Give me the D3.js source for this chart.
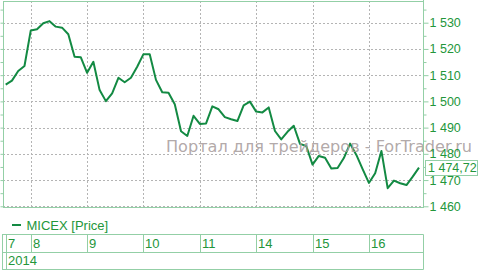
<!DOCTYPE html>
<html>
<head>
<meta charset="utf-8">
<script src="https://cdn.jsdelivr.net/npm/d3@7"></script>
<style>
	body { margin: 0; background: #fff; }
	svg { display: block; }
	text { font-family: 'Liberation Sans', Arial, sans-serif; }
</style>
</head>
<body>
<svg id="svg"></svg>
<script>
// trading days shown on the category axis and how many hourly points each has
const days = ['7', '8', '9', '10', '11', '14', '15', '16']
const pointsPerDay = [4, 9, 9, 9, 9, 9, 9, 9]
const years = ['2014']
const seriesName = 'MICEX [Price]'
const watermark = 'Портал для трейдеров - ForTrader.ru'

// hourly closes
const prices = [
	1506.4, 1507.9, 1511.6, 1513.5,
	1527.0, 1527.5, 1529.8, 1530.6, 1528.5, 1528.1, 1525.6, 1517.0, 1516.8,
	1510.9, 1515.1, 1504.3, 1500.1, 1503.1, 1509.0, 1507.3, 1509.0, 1513.2,
	1518.0, 1518.0, 1508.2, 1503.5, 1503.3, 1498.9, 1488.6, 1486.8, 1494.5,
	1491.4, 1491.6, 1498.1, 1497.0, 1494.0, 1493.2, 1492.5, 1498.5, 1499.9,
	1496.1, 1495.8, 1497.7, 1488.7, 1485.5, 1488.4, 1490.7, 1483.8, 1483.0,
	1475.9, 1479.2, 1478.5, 1474.4, 1474.6, 1478.4, 1483.9, 1479.6, 1474.2,
	1468.9, 1472.6, 1481.1, 1466.9, 1469.8, 1468.8, 1468.1, 1471.3, 1474.72
]
const majorTicks = [1460, 1470, 1480, 1490, 1500, 1510, 1520, 1530]

const w = 481
const h = 270
const green = '#138a43'
const txtGreen = '#23963a'
const pale = '#93cfa6'
const grid = '#b4b4b4'

const ruLocale = d3.formatLocale({ decimal: ',', thousands: ' ', grouping: [3], currency: ['', ''] })
const fmtTick = ruLocale.format(',.0f')
const fmtLast = ruLocale.format(',.2f')

let svg = d3.select('#svg')
.attr('width', w).attr('height', h)

let plot = { left: 3, right: 423, top: 1, bottom: 207 }

let x = d3.scaleLinear()
.domain([-0.43, prices.length - 1 + 0.64])
.range([plot.left, plot.right])

let y = d3.scaleLinear()
.domain([1460, 1530])
.range([206.3, 22.7])

// index of the first point of each day
let dayStart = pointsPerDay.map((n, i) => d3.sum(pointsPerDay.slice(0, i)))

// grid
svg.append('g')
.selectAll('line')
.data(majorTicks)
.enter().append('line')
.attr('x1', plot.left).attr('x2', plot.right)
.attr('y1', d => Math.round(y(d)) + 0.5).attr('y2', d => Math.round(y(d)) + 0.5)
.attr('stroke', grid).attr('stroke-dasharray', '2,2')

svg.append('g')
.selectAll('line')
.data(dayStart.slice(1))
.enter().append('line')
.attr('x1', d => Math.round(x(d)) + 0.5).attr('x2', d => Math.round(x(d)) + 0.5)
.attr('y1', plot.top).attr('y2', plot.bottom)
.attr('stroke', grid).attr('stroke-dasharray', '2,2')

// frame
svg.append('rect')
.attr('x', plot.left + 0.5).attr('y', plot.top + 0.5)
.attr('width', plot.right - plot.left).attr('height', plot.bottom - plot.top)
.attr('fill', 'none').attr('stroke', pale)

// price line
let lineMkr = d3.line()
.x((d, i) => x(i))
.y(d => y(d))

svg.append('path')
.datum(prices)
.attr('d', lineMkr)
.attr('fill', 'none')
.attr('stroke', green)
.attr('stroke-width', 2)
.attr('stroke-linejoin', 'round')

// watermark sits over the line
svg.append('text')
.attr('x', 166).attr('y', 151.5)
.attr('textLength', 306).attr('lengthAdjust', 'spacingAndGlyphs')
.style('font-family', "'DejaVu Sans', sans-serif")
.style('font-size', '16.5px')
.attr('fill', '#a99e9e')
.attr('fill-opacity', 0.9)
.text(watermark)

// left axis: only small ticks
let leftAxis = d3.axisLeft(y)
.tickValues(d3.range(1460, 1536, 5))
.tickSize(3)
.tickFormat('')

let gl = svg.append('g')
.attr('transform', `translate(${plot.left + 0.5},0)`)
.call(leftAxis)
gl.select('.domain').remove()
gl.selectAll('line').attr('stroke', pale)

// right axis with labels
let rightAxis = d3.axisRight(y)
.tickValues(majorTicks)
.tickSize(5)
.tickPadding(1)
.tickFormat(fmtTick)

let gr = svg.append('g')
.attr('transform', `translate(${plot.right + 0.5},0)`)
.call(rightAxis)
gr.select('.domain').remove()
gr.selectAll('line').attr('stroke', pale)
gr.selectAll('text')
.attr('fill', txtGreen)
.style('font-size', '12.5px')
.style('font-family', "'Liberation Sans', Arial, sans-serif")

let minorAxis = d3.axisRight(y)
.tickValues(d3.range(1465, 1536, 10))
.tickSize(3)
.tickFormat('')

let gm = svg.append('g')
.attr('transform', `translate(${plot.right + 0.5},0)`)
.call(minorAxis)
gm.select('.domain').remove()
gm.selectAll('line').attr('stroke', pale)

svg.append('line')
.attr('x1', plot.right + 0.5).attr('x2', plot.right + 0.5)
.attr('y1', 0).attr('y2', plot.bottom + 1)
.attr('stroke', pale)

// last value box
let last = prices[prices.length - 1]
svg.append('rect')
.attr('x', 425.5).attr('y', Math.round(y(last)) - 7.5)
.attr('width', 52).attr('height', 15)
.attr('fill', '#fff').attr('stroke', pale)

svg.append('text')
.attr('x', 428).attr('y', y(last) + 4.5)
.attr('fill', txtGreen)
.style('font-size', '12.5px')
.text(fmtLast(last))

// legend
svg.append('line')
.attr('x1', 12).attr('x2', 21)
.attr('y1', 225).attr('y2', 225)
.attr('stroke', green).attr('stroke-width', 2)

svg.append('text')
.attr('x', 26.5).attr('y', 229.5)
.attr('fill', txtGreen)
.style('font-size', '13px')
.text(seriesName)

// category axis
let rows = [234.5, 252.5, 269.5]

svg.append('g')
.selectAll('line')
.data(rows)
.enter().append('line')
.attr('x1', 2).attr('x2', plot.right + 0.5)
.attr('y1', d => d).attr('y2', d => d)
.attr('stroke', pale)

svg.append('g')
.selectAll('line')
.data([2.5, plot.right + 0.5])
.enter().append('line')
.attr('x1', d => d).attr('x2', d => d)
.attr('y1', rows[0]).attr('y2', rows[2])
.attr('stroke', pale)

let dayCells = svg.append('g')
.selectAll('g')
.data(days)
.enter().append('g')

dayCells.append('line')
.attr('x1', (d, i) => Math.round(x(dayStart[i])) + 0.5)
.attr('x2', (d, i) => Math.round(x(dayStart[i])) + 0.5)
.attr('y1', rows[0]).attr('y2', rows[1])
.attr('stroke', pale)

dayCells.append('text')
.attr('x', (d, i) => Math.round(x(dayStart[i])) + 2)
.attr('y', 248)
.attr('fill', txtGreen)
.style('font-size', '13px')
.text(d => d)

let yearCells = svg.append('g')
.selectAll('g')
.data(years)
.enter().append('g')

yearCells.append('line')
.attr('x1', Math.round(x(0)) + 0.5).attr('x2', Math.round(x(0)) + 0.5)
.attr('y1', rows[1]).attr('y2', rows[2])
.attr('stroke', pale)

yearCells.append('text')
.attr('x', Math.round(x(0)) + 2)
.attr('y', 265)
.attr('fill', txtGreen)
.style('font-size', '13px')
.text(d => d)
</script>
</body>
</html>
